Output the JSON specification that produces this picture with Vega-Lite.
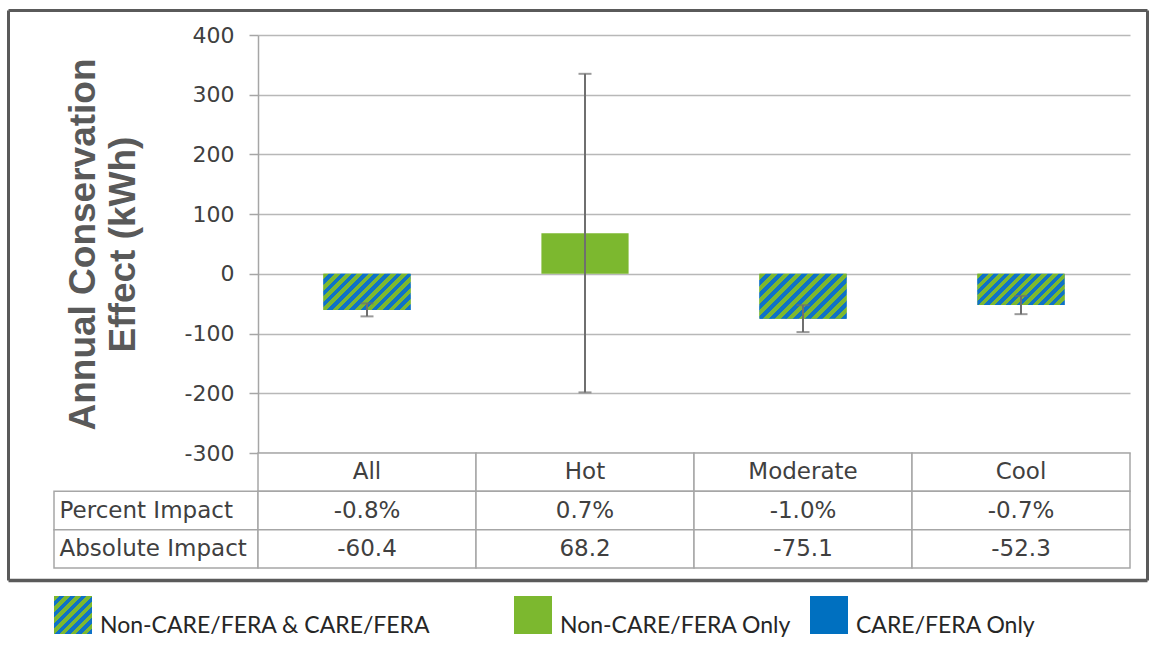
{
  "$schema": "https://vega.github.io/schema/vega-lite/v6.json",
  "padding": {"left": 8, "top": 10, "right": 5, "bottom": 5},
  "background": "white",
  "data": {"values": [
    {"category": "All", "type": "Non-CARE/FERA & CARE/FERA", "value": -60.4, "lo": -71.2, "hi": -49.4, "Percent Impact": "-0.8%", "Absolute Impact": "-60.4"},
    {"category": "Hot", "type": "Non-CARE/FERA Only", "value": 68.2, "lo": -198.5, "hi": 335, "Percent Impact": "0.7%", "Absolute Impact": "68.2"},
    {"category": "Moderate", "type": "Non-CARE/FERA & CARE/FERA", "value": -75.1, "lo": -97.5, "hi": -52.5, "Percent Impact": "-1.0%", "Absolute Impact": "-75.1"},
    {"category": "Cool", "type": "Non-CARE/FERA & CARE/FERA", "value": -52.3, "lo": -67.5, "hi": -37, "Percent Impact": "-0.7%", "Absolute Impact": "-52.3"}
  ]},
  "columns": 2,
  "spacing": 0,
  "bounds": "flush",
  "concat": [
    {
      "width": 204, "height": 418,
      "resolve": {"axis": {"x": "independent", "y": "independent"}},
      "layer": [
        {
          "mark": {"type": "point", "opacity": 0, "clip": true},
          "encoding": {
            "x": {"field": "value", "type": "quantitative", "scale": {"domain": [0, 1], "range": [-46, 1093]},
              "axis": {"orient": "top", "offset": 25, "domainColor": "#5a5a5a", "domainWidth": 3, "ticks": false, "labels": false, "grid": false, "title": null}},
            "y": {"field": "value", "type": "quantitative", "scale": {"domain": [0, 1], "range": [545, -25]},
              "axis": {"orient": "left", "offset": 46, "domainColor": "#5a5a5a", "domainWidth": 3, "ticks": false, "labels": false, "grid": false, "title": null}}
          }
        },
        {
          "mark": {"type": "point", "opacity": 0, "clip": true},
          "encoding": {
            "x": {"field": "value", "type": "quantitative",
              "axis": {"orient": "bottom", "offset": 127, "domainColor": "#5a5a5a", "domainWidth": 3.5, "ticks": false, "labels": false, "grid": false, "title": null}},
            "y": {"field": "value", "type": "quantitative",
              "axis": {"orient": "right", "offset": 889, "domainColor": "#5a5a5a", "domainWidth": 3, "ticks": false, "labels": false, "grid": false, "title": null}}
          }
        }
      ]
    },
    {
      "width": 872, "height": 418,
      "encoding": {
        "x": {"field": "category", "type": "nominal", "sort": ["All", "Hot", "Moderate", "Cool"], "scale": {"paddingInner": 0.6, "paddingOuter": 0.3}, "axis": null}
      },
      "layer": [
        {
          "transform": [{"filter": "datum.type === 'Non-CARE/FERA Only'"}],
          "mark": {"type": "bar"},
          "encoding": {
            "y": {"field": "value", "type": "quantitative", "scale": {"domain": [-300, 400], "nice": false},
              "axis": {"values": [-300, -200, -100, 0, 100, 200, 300, 400], "labelExpr": "'' + datum.value", "grid": true, "gridColor": "#b8b8b8", "gridWidth": 1.5, "domainColor": "#a6a6a6", "domainWidth": 1.5, "tickColor": "#a6a6a6", "tickSize": 9, "tickWidth": 1.5, "labelFont": "DejaVu Sans", "labelFontSize": 22, "labelColor": "#404040", "labelPadding": 15, "labelFlush": false, "labelOverlap": false,
                "title": ["Annual Conservation", "Effect (kWh)"], "titleFont": "Liberation Sans", "titleFontSize": 37, "titleFontWeight": "bold", "titleColor": "#595959", "titleLineHeight": 40, "titlePadding": 42}},
            "fill": {"field": "type", "type": "nominal",
              "scale": {"domain": ["Non-CARE/FERA Only", "CARE/FERA Only"], "range": ["#7cb82f", "#0070c0"]},
              "legend": {"orient": "none", "legendX": 460, "legendY": 561, "direction": "horizontal", "columns": 2, "title": null,
                "symbolType": "square", "symbolSize": 1444, "symbolStrokeWidth": 0, "symbolOpacity": 1,
                "labelFont": "Lato", "labelFontSize": 23, "labelColor": "#262626", "labelOffset": 8, "labelBaseline": "top", "labelLimit": 0, "columnPadding": 18}
            }
          }
        },
        {
          "transform": [{"filter": "datum.type === 'Non-CARE/FERA & CARE/FERA'"}],
          "mark": {"type": "bar", "fill": {"gradient": "linear", "x1": 0, "y1": 0, "x2": 1, "y2": 1, "stops": [
            {"offset": 0, "color": "#7cb82f"}, {"offset": 0.07143, "color": "#7cb82f"}, {"offset": 0.07143, "color": "#0f72c6"}, {"offset": 0.14286, "color": "#0f72c6"},
            {"offset": 0.14286, "color": "#7cb82f"}, {"offset": 0.21429, "color": "#7cb82f"}, {"offset": 0.21429, "color": "#0f72c6"}, {"offset": 0.28571, "color": "#0f72c6"},
            {"offset": 0.28571, "color": "#7cb82f"}, {"offset": 0.35714, "color": "#7cb82f"}, {"offset": 0.35714, "color": "#0f72c6"}, {"offset": 0.42857, "color": "#0f72c6"},
            {"offset": 0.42857, "color": "#7cb82f"}, {"offset": 0.5, "color": "#7cb82f"}, {"offset": 0.5, "color": "#0f72c6"}, {"offset": 0.57143, "color": "#0f72c6"},
            {"offset": 0.57143, "color": "#7cb82f"}, {"offset": 0.64286, "color": "#7cb82f"}, {"offset": 0.64286, "color": "#0f72c6"}, {"offset": 0.71429, "color": "#0f72c6"},
            {"offset": 0.71429, "color": "#7cb82f"}, {"offset": 0.78571, "color": "#7cb82f"}, {"offset": 0.78571, "color": "#0f72c6"}, {"offset": 0.85714, "color": "#0f72c6"},
            {"offset": 0.85714, "color": "#7cb82f"}, {"offset": 0.92857, "color": "#7cb82f"}, {"offset": 0.92857, "color": "#0f72c6"}, {"offset": 1, "color": "#0f72c6"}
          ]}},
          "encoding": {
            "y": {"field": "value", "type": "quantitative"},
            "opacity": {"field": "type", "type": "nominal", "scale": {"domain": ["Non-CARE/FERA & CARE/FERA"], "range": [1]},
              "legend": {"orient": "none", "legendX": 0, "legendY": 561, "direction": "horizontal", "title": null,
                "symbolType": "square", "symbolSize": 1444, "symbolStrokeWidth": 0,
                "labelFont": "Lato", "labelFontSize": 23, "labelColor": "#262626", "labelOffset": 8, "labelBaseline": "top", "labelLimit": 0}}
          }
        },
        {
          "transform": [{"filter": "datum.category === 'All'"}],
          "mark": {"type": "bar", "fill": {"gradient": "linear", "x1": 0, "y1": 0, "x2": 1.2071, "y2": 0.4993, "stops": [
            {"offset": 0, "color": "#7cb82f"}, {"offset": 0.04545, "color": "#7cb82f"}, {"offset": 0.04545, "color": "#0f72c6"}, {"offset": 0.09091, "color": "#0f72c6"},
            {"offset": 0.09091, "color": "#7cb82f"}, {"offset": 0.13636, "color": "#7cb82f"}, {"offset": 0.13636, "color": "#0f72c6"}, {"offset": 0.18182, "color": "#0f72c6"},
            {"offset": 0.18182, "color": "#7cb82f"}, {"offset": 0.22727, "color": "#7cb82f"}, {"offset": 0.22727, "color": "#0f72c6"}, {"offset": 0.27273, "color": "#0f72c6"},
            {"offset": 0.27273, "color": "#7cb82f"}, {"offset": 0.31818, "color": "#7cb82f"}, {"offset": 0.31818, "color": "#0f72c6"}, {"offset": 0.36364, "color": "#0f72c6"},
            {"offset": 0.36364, "color": "#7cb82f"}, {"offset": 0.40909, "color": "#7cb82f"}, {"offset": 0.40909, "color": "#0f72c6"}, {"offset": 0.45455, "color": "#0f72c6"},
            {"offset": 0.45455, "color": "#7cb82f"}, {"offset": 0.5, "color": "#7cb82f"}, {"offset": 0.5, "color": "#0f72c6"}, {"offset": 0.54545, "color": "#0f72c6"},
            {"offset": 0.54545, "color": "#7cb82f"}, {"offset": 0.59091, "color": "#7cb82f"}, {"offset": 0.59091, "color": "#0f72c6"}, {"offset": 0.63636, "color": "#0f72c6"},
            {"offset": 0.63636, "color": "#7cb82f"}, {"offset": 0.68182, "color": "#7cb82f"}, {"offset": 0.68182, "color": "#0f72c6"}, {"offset": 0.72727, "color": "#0f72c6"},
            {"offset": 0.72727, "color": "#7cb82f"}, {"offset": 0.77273, "color": "#7cb82f"}, {"offset": 0.77273, "color": "#0f72c6"}, {"offset": 0.81818, "color": "#0f72c6"},
            {"offset": 0.81818, "color": "#7cb82f"}, {"offset": 0.86364, "color": "#7cb82f"}, {"offset": 0.86364, "color": "#0f72c6"}, {"offset": 0.90909, "color": "#0f72c6"},
            {"offset": 0.90909, "color": "#7cb82f"}, {"offset": 0.95455, "color": "#7cb82f"}, {"offset": 0.95455, "color": "#0f72c6"}, {"offset": 1, "color": "#0f72c6"}
          ]}},
          "encoding": {"y": {"field": "value", "type": "quantitative"}}
        },
        {
          "transform": [{"filter": "datum.category === 'Moderate'"}],
          "mark": {"type": "bar", "fill": {"gradient": "linear", "x1": 0, "y1": 0, "x2": 1.1976, "y2": 0.6158, "stops": [
            {"offset": 0, "color": "#7cb82f"}, {"offset": 0.04545, "color": "#7cb82f"}, {"offset": 0.04545, "color": "#0f72c6"}, {"offset": 0.09091, "color": "#0f72c6"},
            {"offset": 0.09091, "color": "#7cb82f"}, {"offset": 0.13636, "color": "#7cb82f"}, {"offset": 0.13636, "color": "#0f72c6"}, {"offset": 0.18182, "color": "#0f72c6"},
            {"offset": 0.18182, "color": "#7cb82f"}, {"offset": 0.22727, "color": "#7cb82f"}, {"offset": 0.22727, "color": "#0f72c6"}, {"offset": 0.27273, "color": "#0f72c6"},
            {"offset": 0.27273, "color": "#7cb82f"}, {"offset": 0.31818, "color": "#7cb82f"}, {"offset": 0.31818, "color": "#0f72c6"}, {"offset": 0.36364, "color": "#0f72c6"},
            {"offset": 0.36364, "color": "#7cb82f"}, {"offset": 0.40909, "color": "#7cb82f"}, {"offset": 0.40909, "color": "#0f72c6"}, {"offset": 0.45455, "color": "#0f72c6"},
            {"offset": 0.45455, "color": "#7cb82f"}, {"offset": 0.5, "color": "#7cb82f"}, {"offset": 0.5, "color": "#0f72c6"}, {"offset": 0.54545, "color": "#0f72c6"},
            {"offset": 0.54545, "color": "#7cb82f"}, {"offset": 0.59091, "color": "#7cb82f"}, {"offset": 0.59091, "color": "#0f72c6"}, {"offset": 0.63636, "color": "#0f72c6"},
            {"offset": 0.63636, "color": "#7cb82f"}, {"offset": 0.68182, "color": "#7cb82f"}, {"offset": 0.68182, "color": "#0f72c6"}, {"offset": 0.72727, "color": "#0f72c6"},
            {"offset": 0.72727, "color": "#7cb82f"}, {"offset": 0.77273, "color": "#7cb82f"}, {"offset": 0.77273, "color": "#0f72c6"}, {"offset": 0.81818, "color": "#0f72c6"},
            {"offset": 0.81818, "color": "#7cb82f"}, {"offset": 0.86364, "color": "#7cb82f"}, {"offset": 0.86364, "color": "#0f72c6"}, {"offset": 0.90909, "color": "#0f72c6"},
            {"offset": 0.90909, "color": "#7cb82f"}, {"offset": 0.95455, "color": "#7cb82f"}, {"offset": 0.95455, "color": "#0f72c6"}, {"offset": 1, "color": "#0f72c6"}
          ]}},
          "encoding": {"y": {"field": "value", "type": "quantitative"}}
        },
        {
          "transform": [{"filter": "datum.category === 'Cool'"}],
          "mark": {"type": "bar", "fill": {"gradient": "linear", "x1": 0, "y1": 0, "x2": 1.2038, "y2": 0.4311, "stops": [
            {"offset": 0, "color": "#7cb82f"}, {"offset": 0.04545, "color": "#7cb82f"}, {"offset": 0.04545, "color": "#0f72c6"}, {"offset": 0.09091, "color": "#0f72c6"},
            {"offset": 0.09091, "color": "#7cb82f"}, {"offset": 0.13636, "color": "#7cb82f"}, {"offset": 0.13636, "color": "#0f72c6"}, {"offset": 0.18182, "color": "#0f72c6"},
            {"offset": 0.18182, "color": "#7cb82f"}, {"offset": 0.22727, "color": "#7cb82f"}, {"offset": 0.22727, "color": "#0f72c6"}, {"offset": 0.27273, "color": "#0f72c6"},
            {"offset": 0.27273, "color": "#7cb82f"}, {"offset": 0.31818, "color": "#7cb82f"}, {"offset": 0.31818, "color": "#0f72c6"}, {"offset": 0.36364, "color": "#0f72c6"},
            {"offset": 0.36364, "color": "#7cb82f"}, {"offset": 0.40909, "color": "#7cb82f"}, {"offset": 0.40909, "color": "#0f72c6"}, {"offset": 0.45455, "color": "#0f72c6"},
            {"offset": 0.45455, "color": "#7cb82f"}, {"offset": 0.5, "color": "#7cb82f"}, {"offset": 0.5, "color": "#0f72c6"}, {"offset": 0.54545, "color": "#0f72c6"},
            {"offset": 0.54545, "color": "#7cb82f"}, {"offset": 0.59091, "color": "#7cb82f"}, {"offset": 0.59091, "color": "#0f72c6"}, {"offset": 0.63636, "color": "#0f72c6"},
            {"offset": 0.63636, "color": "#7cb82f"}, {"offset": 0.68182, "color": "#7cb82f"}, {"offset": 0.68182, "color": "#0f72c6"}, {"offset": 0.72727, "color": "#0f72c6"},
            {"offset": 0.72727, "color": "#7cb82f"}, {"offset": 0.77273, "color": "#7cb82f"}, {"offset": 0.77273, "color": "#0f72c6"}, {"offset": 0.81818, "color": "#0f72c6"},
            {"offset": 0.81818, "color": "#7cb82f"}, {"offset": 0.86364, "color": "#7cb82f"}, {"offset": 0.86364, "color": "#0f72c6"}, {"offset": 0.90909, "color": "#0f72c6"},
            {"offset": 0.90909, "color": "#7cb82f"}, {"offset": 0.95455, "color": "#7cb82f"}, {"offset": 0.95455, "color": "#0f72c6"}, {"offset": 1, "color": "#0f72c6"}
          ]}},
          "encoding": {"y": {"field": "value", "type": "quantitative"}}
        },
        {
          "mark": {"type": "rule", "color": "#6f6f6f", "strokeWidth": 2},
          "encoding": {"y": {"field": "lo", "type": "quantitative"}, "y2": {"field": "hi"}}
        },
        {
          "mark": {"type": "tick", "color": "#6f6f6f", "thickness": 2, "size": 13},
          "encoding": {"y": {"field": "lo", "type": "quantitative"}}
        },
        {
          "mark": {"type": "tick", "color": "#6f6f6f", "thickness": 2, "size": 13},
          "encoding": {"y": {"field": "hi", "type": "quantitative"}}
        }
      ]
    },
    {
      "width": 204, "height": 115,
      "transform": [
        {"fold": ["category", "Percent Impact", "Absolute Impact"], "as": ["row", "text"]},
        {"filter": "datum.row !== 'category' && datum.category === 'All'"}
      ],
      "mark": {"type": "rect", "fill": "white", "stroke": "#a6a6a6", "strokeWidth": 1.5},
      "encoding": {
        "y": {"field": "row", "type": "nominal", "scale": {"domain": ["category", "Percent Impact", "Absolute Impact"], "paddingInner": 0, "paddingOuter": 0},
          "axis": {"title": null, "ticks": false, "domain": false, "labelAlign": "left", "labelPadding": -5, "labelExpr": "datum.value === 'category' ? '' : datum.label", "labelFont": "DejaVu Sans", "labelFontSize": 23, "labelColor": "#404040", "labelLimit": 0}}
      }
    },
    {
      "width": 872, "height": 115,
      "transform": [
        {"fold": ["category", "Percent Impact", "Absolute Impact"], "as": ["row", "text"]}
      ],
      "encoding": {
        "x": {"field": "category", "type": "nominal", "sort": ["All", "Hot", "Moderate", "Cool"], "scale": {"paddingInner": 0, "paddingOuter": 0}, "axis": null},
        "y": {"field": "row", "type": "nominal", "scale": {"domain": ["category", "Percent Impact", "Absolute Impact"], "paddingInner": 0, "paddingOuter": 0}, "axis": null}
      },
      "layer": [
        {"mark": {"type": "rect", "fill": "white", "stroke": "#a6a6a6", "strokeWidth": 1.5}},
        {"mark": {"type": "text", "font": "DejaVu Sans", "fontSize": 23, "color": "#404040"}, "encoding": {"text": {"field": "text"}}}
      ]
    }
  ],
  "config": {
    "view": {"stroke": null},
    "concat": {"spacing": 0}
  }
}
